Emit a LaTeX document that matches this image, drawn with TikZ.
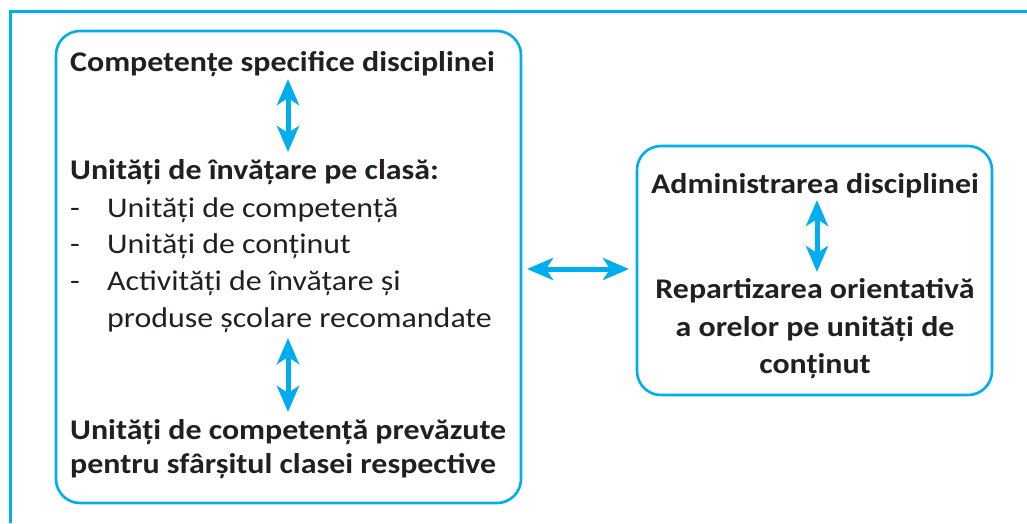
\documentclass[tikz,border=0pt]{standalone}
\usepackage{fontspec}
\setmainfont{Carlito}[FakeStretch=1.12]
\usepackage{xcolor}
\usetikzlibrary{arrows.meta}
\definecolor{frameblue}{HTML}{00AEEF}
\definecolor{inktext}{HTML}{231F20}
\tikzset{
  txt/.style={anchor=base west,inner sep=0pt,text=inktext,font=\fontsize{28.5}{36}\selectfont},
  hd/.style={txt,font=\bfseries\fontsize{28.5}{36}\selectfont},
  rhd/.style={hd,anchor=base},
  panel/.style={draw=frameblue,line width=2.6pt,rounded corners=24pt},
  biarrow/.style={draw=frameblue,line width=5pt,
    {Stealth[length=26pt,width=22pt,inset=7pt]}-{Stealth[length=26pt,width=22pt,inset=7pt]}}
}
\begin{document}
\begin{tikzpicture}[x=1pt,y=-1pt]
\useasboundingbox (0,0) rectangle (1027,523);
\draw[frameblue,line width=2.6pt] (10.5,523) -- (10.5,11.5) -- (1027,11.5);
% left panel
\draw[panel] (56,31) rectangle (521,503);
\node[hd] (comp) at (70,71) {Competențe specifice disciplinei};
\node[hd] (unit) at (70,179) {Unități de învățare pe clasă:};
\node[txt] (d1) at (70,217) {-};
\node[txt] (l1) at (107,217) {Unități de competență};
\node[txt] (d2) at (70,253) {-};
\node[txt] (l2) at (107,253) {Unități de conținut};
\node[txt] (d3) at (70,290) {-};
\node[txt] (l3) at (107,290) {Activități de învățare și};
\node[txt] (l4) at (107,327) {produse școlare recomandate};
\node[hd] (fin1) at (70,439) {Unități de competență prevăzute};
\node[hd] (fin2) at (70,473) {pentru sfârșitul clasei respective};
\coordinate (ax) at (288,0);
\draw[biarrow] (ax |- 0,79) -- (ax |- 0,152);
\draw[biarrow] (ax |- 0,338) -- (ax |- 0,412);
% right panel
\draw[panel] (637,146) rectangle (992,395);
\node[rhd] (adm) at (815,193) {Administrarea disciplinei};
\node[rhd] (rep1) at (815,298) {Repartizarea orientativă};
\node[rhd] (rep2) at (815,336) {a orelor pe unități de};
\node[rhd] (rep3) at (815,373) {conținut};
\coordinate (bx) at (817,0);
\draw[biarrow] (bx |- 0,200) -- (bx |- 0,272);
% link between panels
\coordinate (la) at (527,269);
\coordinate (lb) at (629,269);
\draw[biarrow] (la) -- (lb);
\end{tikzpicture}
\end{document}
